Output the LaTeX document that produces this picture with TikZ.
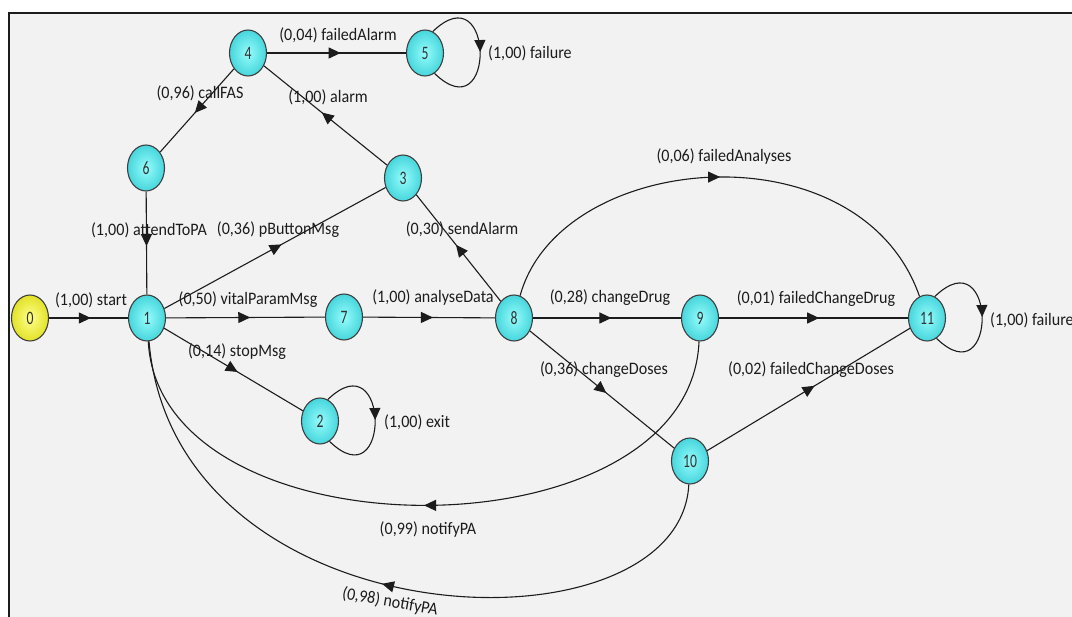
\documentclass[tikz,border=0pt]{standalone}
\usepackage{fontspec}
\setmainfont{Carlito}
\newfontfamily\lblfont[FakeStretch=0.92]{Carlito}
\newfontfamily\numfont[FakeStretch=0.72]{Carlito}
\usepackage{xcolor}
\definecolor{panel-grey}{RGB}{242,242,242}
\definecolor{ink}{RGB}{28,28,28}
\definecolor{cyan-in}{RGB}{150,252,252}
\definecolor{cyan-out}{RGB}{70,214,220}
\definecolor{yellow-in}{RGB}{255,255,140}
\definecolor{yellow-out}{RGB}{226,226,40}
\usepackage{tikz}
\usetikzlibrary{shapes.geometric,arrows.meta,decorations.markings}

\tikzset{
	state/.style={ellipse,draw=ink!85,line width=1.1pt,minimum width=37pt,
		minimum height=46pt,inner sep=0pt,inner color=cyan-in,outer color=cyan-out,
		text=ink!90,font=\numfont\fontsize{19}{19}\selectfont},
	start state/.style={state,inner color=yellow-in,outer color=yellow-out},
	trans/.style={draw=ink,line width=1.1pt,postaction={decorate},
		decoration={markings,mark=at position #1 with {\arrow{Triangle[length=12pt,width=11pt]}}}},
	trans/.default=0.53,
	lbl/.style={text=ink,inner sep=0pt,font=\lblfont\fontsize{17.5}{17.5}\selectfont},
}

\begin{document}
\begin{tikzpicture}[x=1pt,y=-1pt]
	\useasboundingbox (0,0) rectangle (1072,617);
	\fill[panel-grey] (9,13) rectangle (1072,617);
	\draw[line width=2pt,ink] (9,617) -- (9,13) -- (1072,13);
	
	% states
	\node[start state] (n0) at (30,318) {0};
	\foreach \n/\x/\y in {
		1/147/318, 2/320/421, 3/403/178, 4/248/53, 5/425/53, 6/146/168,
		7/344/317, 8/514/318, 9/700/318, 10/690/461, 11/927/318} {
		\node[state] (n\n) at (\x,\y) {\n};
	}
	
	% straight transitions
	\foreach \a/\b in {0/1, 6/1, 4/6, 3/4, 4/5, 1/3, 1/7, 1/2,
		7/8, 8/3, 8/9, 9/11, 8/10, 10/11} {
		\draw[trans] (n\a) -- (n\b);
	}
	
	% curved transitions
	\draw[trans=0.5] (n8) .. controls (560,150) and (860,125) .. (n11);
	\draw[trans=0.5] (n9) .. controls (690,560) and (160,560) .. (n1);
	\draw[trans=0.5] (n10) .. controls (680,660) and (175,645) .. (n1);
	
	% self loops
	\foreach \n in {2,5,11} {
		\draw[trans=0.5] (n\n.70) .. controls +(62,-60) and +(62,60) .. (n\n.-65);
	}
	
	% labels
	\node[lbl] (l01) at (91,300) {(1,00) start};
	\node[lbl] (l61) at (149,230) {(1,00) attendToPA};
	\node[lbl] (l46) at (200,93) {(0,96) callFAS};
	\node[lbl] (l34) at (328,97) {(1,00) alarm};
	\node[lbl] (l45) at (338,35) {(0,04) failedAlarm};
	\node[lbl,anchor=west] (l55) at (488,53) {(1,00) failure};
	\node[lbl] (l13) at (278,230) {(0,36) pButtonMsg};
	\node[lbl] (l17) at (248,300) {(0,50) vitalParamMsg};
	\node[lbl] (l12) at (237,352) {(0,14) stopMsg};
	\node[lbl,anchor=west] (l22) at (384,422) {(1,00) exit};
	\node[lbl] (l78) at (433,298) {(1,00) analyseData};
	\node[lbl] (l83) at (462,229) {(0,30) sendAlarm};
	\node[lbl] (l811) at (724,157) {(0,06) failedAnalyses};
	\node[lbl] (l89) at (610,298) {(0,28) changeDrug};
	\node[lbl] (l911) at (816,299) {(0,01) failedChangeDrug};
	\node[lbl,anchor=west] (l1111) at (990,320) {(1,00) failure};
	\node[lbl] (l810) at (604,370) {(0,36) changeDoses};
	\node[lbl] (l1011) at (811,370) {(0,02) failedChangeDoses};
	\node[lbl] (l91) at (428,530) {(0,99) notifyPA};
	\node[lbl,rotate=-10] (l101) at (390,602) {(0,98) notifyPA};
\end{tikzpicture}
\end{document}
